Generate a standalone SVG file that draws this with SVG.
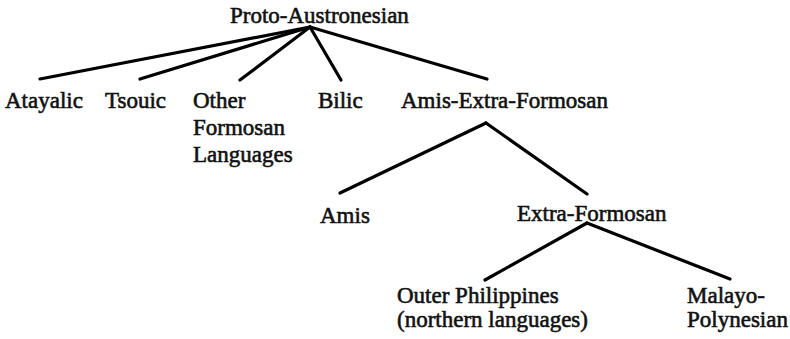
<svg xmlns="http://www.w3.org/2000/svg" width="790" height="339" viewBox="0 0 790 339">
<style>
text{font-family:"Liberation Serif","Times New Roman",serif;font-size:23px;fill:#111;stroke:#111;stroke-width:0.6}
.c line{stroke:#000;stroke-width:3.2;stroke-linecap:round}
</style>
<rect width="790" height="339" fill="#fff"/>
<g class="c" id="connectors">
<line x1="310" y1="27" x2="40" y2="79"/>
<line x1="310" y1="27" x2="140" y2="79"/>
<line x1="310" y1="27" x2="240" y2="80"/>
<line x1="310" y1="27" x2="341" y2="80"/>
<line x1="310" y1="27" x2="487" y2="79"/>
<line x1="486" y1="123" x2="340" y2="193"/>
<line x1="486" y1="123" x2="587" y2="194"/>
<line x1="587" y1="223" x2="485" y2="280"/>
<line x1="587" y1="223" x2="730" y2="279"/>
</g>
<g id="proto"><text x="230" y="23">Proto-Austronesian</text></g>
<g id="atayalic"><text x="5" y="108">Atayalic</text></g>
<g id="tsouic"><text x="105" y="108">Tsouic</text></g>
<g id="other"><text x="193" y="108">Other</text><text x="193" y="135">Formosan</text><text x="193" y="162">Languages</text></g>
<g id="bilic"><text x="318" y="108">Bilic</text></g>
<g id="amisextra"><text x="401" y="108">Amis-Extra-Formosan</text></g>
<g id="amis"><text x="320" y="223">Amis</text></g>
<g id="extra"><text x="517" y="221">Extra-Formosan</text></g>
<g id="outer"><text x="397" y="303">Outer Philippines</text><text x="397" y="327">(northern languages)</text></g>
<g id="malayo"><text x="687" y="303">Malayo-</text><text x="687" y="327">Polynesian</text></g>
</svg>
